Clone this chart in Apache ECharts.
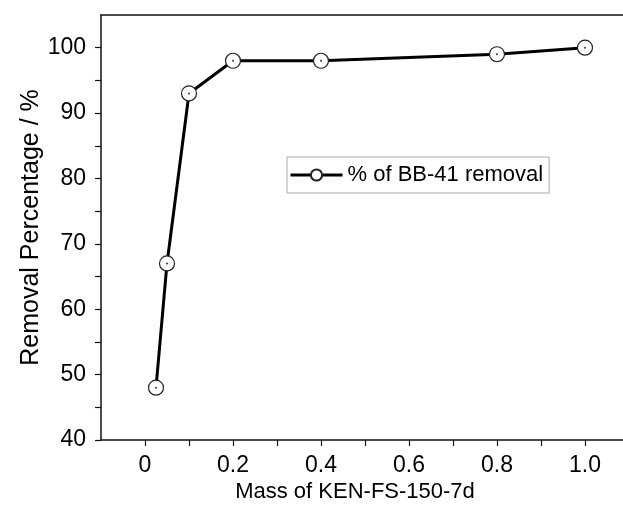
<!DOCTYPE html>
<html><head><meta charset="utf-8">
<script src="https://cdn.jsdelivr.net/npm/echarts@6/dist/echarts.min.js"></script>
<style>html,body{margin:0;padding:0;background:#fff}#c{width:623px;height:517px}</style>
</head><body><div id="c"></div>
<script>
const massValues = [0.025, 0.05, 0.1, 0.2, 0.4, 0.8, 1.0];
const removalValues = [48, 67, 93, 98, 98, 99, 100];
const seriesName = '% of BB-41 removal';
const xTitle = 'Mass of KEN-FS-150-7d';
const yTitle = 'Removal Percentage / %';

const pts = massValues.map((m, i) => [m, removalValues[i]]);
const font = '"Liberation Sans", Arial, sans-serif';
const chart = echarts.init(document.getElementById('c'), null, {renderer: 'canvas'});
chart.setOption({
  animation: false,
  backgroundColor: '#fff',
  grid: {left: 101, top: 15, right: 0, bottom: 77},
  legend: {
    data: [seriesName], left: 287, top: 157,
    borderColor: '#aaa', borderWidth: 1, padding: [7, 6, 7, 2],
    itemWidth: 52, itemHeight: 14, itemGap: 6,
    lineStyle: {width: 3, color: '#000'},
    textStyle: {fontFamily: font, fontSize: 22, color: '#000'}
  },
  xAxis: [{
    type: 'value', min: -0.1, max: 1.0864, interval: 0.1,
    axisLine: {lineStyle: {color: '#111', width: 1.5}, onZero: false},
    axisTick: {show: true, inside: false, length: 6, lineStyle: {color: '#111', width: 1.2}},
    axisLabel: {
      showMaxLabel: false, showMinLabel: false, margin: 14,
      fontFamily: font, fontSize: 23, color: '#000',
      formatter: v => { const k = Math.round(v * 10); if (k < 0 || k % 2) return ''; return k === 0 ? '0' : (k / 10).toFixed(1); }
    },
    splitLine: {show: false},
    name: xTitle, nameLocation: 'middle', nameGap: 41, nameMoveOverlap: false,
    nameTextStyle: {fontFamily: font, fontSize: 22, color: '#000', padding: [0, 14, 0, 0]}
  }, {
    type: 'value', position: 'top', min: -0.1, max: 1.0864,
    axisLine: {show: true, lineStyle: {color: '#111', width: 1.5}},
    axisTick: {show: false}, axisLabel: {show: false}, splitLine: {show: false}
  }],
  yAxis: {
    type: 'value', min: 40, max: 105, interval: 5,
    axisLine: {show: true, lineStyle: {color: '#111', width: 1.5}, onZero: false},
    axisTick: {show: true, inside: false, length: 6, lineStyle: {color: '#111', width: 1.2}},
    axisLabel: {
      showMaxLabel: false, margin: 15,
      fontFamily: font, fontSize: 23, color: '#000',
      formatter: v => (Math.round(v) % 10 === 0 ? String(Math.round(v)) : '')
    },
    splitLine: {show: false},
    name: yTitle, nameLocation: 'middle', nameGap: 57, nameMoveOverlap: false,
    nameTextStyle: {fontFamily: font, fontSize: 25, color: '#000'}
  },
  series: [{
    name: seriesName, type: 'line', data: pts,
    symbol: 'circle', symbolSize: 15,
    lineStyle: {color: '#000', width: 3},
    itemStyle: {color: '#fff', borderColor: '#222', borderWidth: 1.2},
    z: 3
  }, {
    name: 'dots', type: 'scatter', data: pts, symbolSize: 2,
    itemStyle: {color: '#000'}, z: 4, silent: true
  }]
});
</script></body></html>
